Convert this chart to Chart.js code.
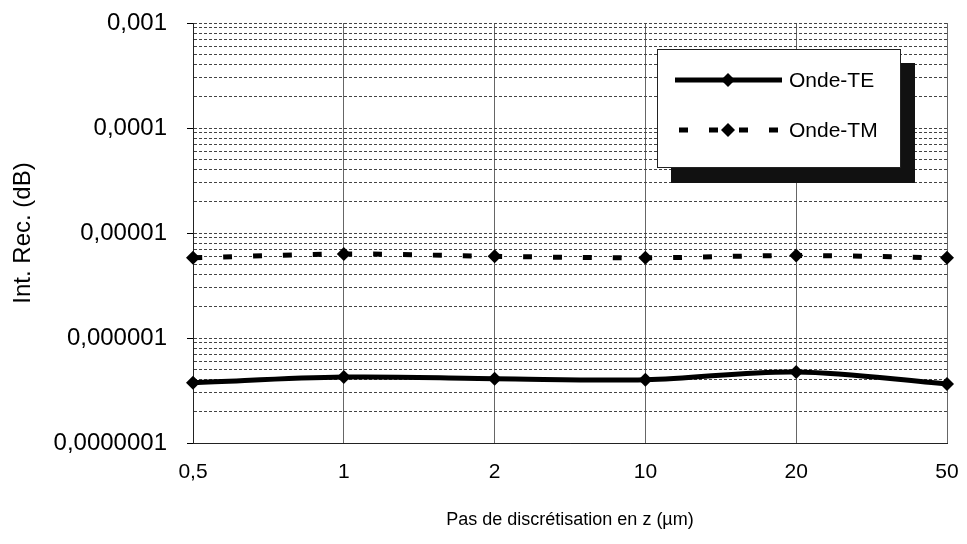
<!DOCTYPE html>
<html>
<head>
<meta charset="utf-8">
<title>Int. Rec.</title>
<script src="https://cdn.jsdelivr.net/npm/chart.js@4/dist/chart.umd.min.js"></script>
<style>
    html, body { margin: 0; padding: 0; background: #fff; }
    #wrap { width: 967px; height: 544px; position: relative; }
</style>
</head>
<body>
<div id="wrap"><canvas id="ch-rec" width="967" height="544"></canvas></div>
<script>
// ── Donnees ──────────────────────────────────────────────────────────────
const categories   = ['0,5', '1', '2', '10', '20', '50'];
const ondeTE       = [3.75e-7, 4.25e-7, 4.1e-7, 4.0e-7, 4.75e-7, 3.65e-7];
const ondeTM       = [5.8e-6, 6.3e-6, 6.0e-6, 5.8e-6, 6.1e-6, 5.8e-6];
const yMajorTicks  = [1e-7, 1e-6, 1e-5, 1e-4, 1e-3];
const yMajorLabels = ['0,0000001', '0,000001', '0,00001', '0,0001', '0,001'];

const FONT = "'Liberation Sans', Arial, sans-serif";

// graduations mineures 2..9 de chaque decade (pour les lignes pointillees)
const yAllTicks = [];
yMajorTicks.forEach((v, i) => {
    yAllTicks.push(v);
    if (i < yMajorTicks.length - 1) {
        for (let m = 2; m <= 9; m++) yAllTicks.push(v * m);
    }
});
const isMajor = v => yMajorTicks.some(t => Math.abs(v - t) / t < 1e-6);

// ── Legende encadree avec ombre ──────────────────────────────────────────
const boxLegend = {
    id: 'boxLegend',
    afterDraw(chart) {
        const ctx = chart.ctx;
        const bx = 657, by = 49, bw = 243, bh = 118, sh = 14;
        ctx.save();
        ctx.fillStyle = '#111';
        ctx.fillRect(bx + sh, by + sh, bw + 1, bh + 2);
        ctx.fillStyle = '#fff';
        ctx.fillRect(bx, by, bw, bh);
        ctx.strokeStyle = '#222';
        ctx.lineWidth = 1;
        ctx.strokeRect(bx + 0.5, by + 0.5, bw, bh);

        chart.data.datasets.forEach((ds, i) => {
            const y = by + 31 + i * 50;
            ctx.strokeStyle = ds.borderColor;
            ctx.lineWidth = ds.borderWidth;
            ctx.setLineDash(ds.borderDash || []);
            ctx.lineDashOffset = -4;
            ctx.beginPath();
            ctx.moveTo(675, y); ctx.lineTo(782, y);
            ctx.stroke();
            ctx.setLineDash([]);
            // losange
            const r = 7;
            ctx.fillStyle = ds.pointBackgroundColor;
            ctx.beginPath();
            ctx.moveTo(728, y - r); ctx.lineTo(728 + r, y);
            ctx.lineTo(728, y + r); ctx.lineTo(728 - r, y);
            ctx.closePath(); ctx.fill();
            ctx.fillStyle = '#000';
            ctx.font = `21px ${FONT}`;
            ctx.textBaseline = 'middle';
            ctx.fillText(ds.label, 789, y + 1);
        });
        ctx.restore();
    },
};

// ── Graphique ────────────────────────────────────────────────────────────
const ctx = document.getElementById('ch-rec').getContext('2d');
new Chart(ctx, {
    type: 'line',
    data: {
        labels: categories,
        datasets: [
            {
                label: 'Onde-TE', data: ondeTE,
                borderColor: '#000', backgroundColor: '#000',
                borderWidth: 5, tension: 0.35,
                pointStyle: 'rectRot', pointRadius: 7,
                pointBackgroundColor: '#000', pointBorderWidth: 0,
            },
            {
                label: 'Onde-TM', data: ondeTM,
                borderColor: '#000', backgroundColor: '#000',
                borderWidth: 5, tension: 0.35,
                borderDash: [9, 21], borderCapStyle: 'butt',
                pointStyle: 'rectRot', pointRadius: 7,
                pointBackgroundColor: '#000', pointBorderWidth: 0,
            },
        ],
    },
    options: {
        responsive: false, animation: false,
        layout: { padding: { top: 23, right: 20, left: 0, bottom: 0 } },
        plugins: {
            legend: { display: false },
            tooltip: { enabled: false },
        },
        scales: {
            x: {
                type: 'category', offset: false,
                grid:   { color: '#666', lineWidth: 1, drawTicks: false },
                border: { color: '#222', width: 1 },
                ticks:  { color: '#000', font: { family: FONT, size: 21 }, padding: 17, maxRotation: 0 },
                title:  { display: true, text: 'Pas de discrétisation en z (µm)', color: '#000',
                          font: { family: FONT, size: 18 }, padding: { top: 4, bottom: 13 } },
                afterFit: s => { s.height = 101; s.paddingLeft = 0; s.paddingRight = 0; },
            },
            y: {
                type: 'logarithmic', min: 1e-7, max: 1e-3,
                afterBuildTicks: s => { s.ticks = yAllTicks.map(v => ({ value: v, major: isMajor(v) })); },
                grid: {
                    color: '#444', lineWidth: 1, tickLength: 6,
                    tickColor: c => (c.tick && isMajor(c.tick.value)) ? '#000' : 'rgba(0,0,0,0)',
                },
                border: { color: '#222', width: 1, dash: [3, 2] },
                ticks: {
                    autoSkip: false, color: '#000', padding: 20,
                    font: { family: FONT, size: 24 },
                    callback: v => {
                        const i = yMajorTicks.findIndex(t => Math.abs(v - t) / t < 1e-6);
                        return i >= 0 ? yMajorLabels[i] : '';
                    },
                },
                title: { display: true, text: 'Int. Rec. (dB)', color: '#000',
                         font: { family: FONT, size: 24 }, padding: { top: 9 } },
                afterFit: s => { s.width = 193; s.paddingTop = 0; s.paddingBottom = 0; },
            },
        },
    },
    plugins: [boxLegend],
});
</script>
</body>
</html>
